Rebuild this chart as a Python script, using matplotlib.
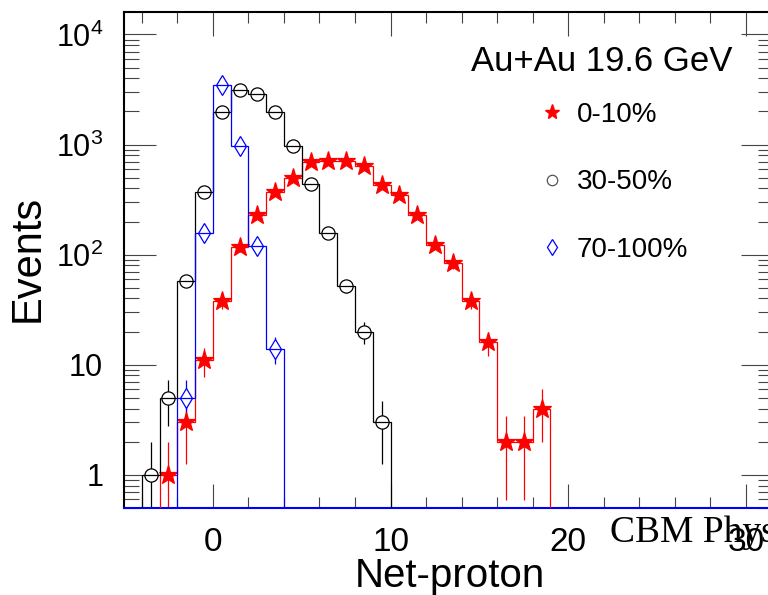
import numpy as np
import matplotlib
matplotlib.use('Agg')
import matplotlib.pyplot as plt
from matplotlib.lines import Line2D
from matplotlib.ticker import MultipleLocator, LogLocator, FixedLocator, FixedFormatter, NullFormatter

plt.rcParams['font.family'] = ['Liberation Sans', 'DejaVu Sans']
plt.rcParams['mathtext.fontset'] = 'custom'
plt.rcParams['mathtext.rm'] = 'Liberation Sans'

# net-proton distributions, unit bins starting at the given left edge
central_start = -3
central_counts = [1, 3, 11, 38, 117, 228, 369, 498, 700, 712, 705, 644, 433,
                  346, 228, 123, 84, 38, 16, 2, 2, 4]
mid_start = -4
mid_counts = [1, 5, 58, 371, 1983, 3162, 2909, 1967, 966, 442, 157, 52, 20, 3]
periph_start = -2
periph_counts = [5, 157, 3511, 979, 121, 14]

labels = ['0-10%', '30-50%', '70-100%']
y_ticks = [1, 10, 100, 1000, 10000]
y_tick_labels = ['1', '10', r'$10^{2}$', r'$10^{3}$', r'$10^{4}$']

fig = plt.figure(figsize=(7.68, 5.95), dpi=100)
ax = fig.add_axes([0.16146, 0.14622, 0.84453, 0.83361])
ax.set_yscale('log')

series = [
    (central_start, central_counts, 'red', '*', 14, 'red'),
    (mid_start, mid_counts, 'black', 'o', 9.5, 'none'),
    (periph_start, periph_counts, 'blue', 'd', 10, 'none'),
]

for z, (start, counts, color, marker, ms, face) in enumerate(series):
    counts = np.array(counts, dtype=float)
    edges = start + np.arange(len(counts) + 1)
    centers = edges[:-1] + 0.5
    err = np.sqrt(counts)
    lower = np.minimum(err, counts * 0.999)
    ax.errorbar(centers, counts, yerr=[lower, err], fmt='none', ecolor=color,
                elinewidth=0.9, capsize=0, zorder=2 + z * 0.1)
    ax.plot(centers, counts, ls='none', marker=marker, ms=ms,
            mfc='white' if face == 'none' else face, mec=color, mew=0.9,
            zorder=3 + z * 0.1)
    ax.stairs(counts, edges, baseline=0.1, color=color, lw=0.9,
              zorder=4 + z * 0.1)

ax.set_xlim(-5, 31.5)
ax.set_ylim(0.5, 1.6e4)

ax.xaxis.set_major_locator(MultipleLocator(10))
ax.xaxis.set_minor_locator(MultipleLocator(2))
ax.yaxis.set_major_locator(FixedLocator(y_ticks))
ax.yaxis.set_major_formatter(FixedFormatter(y_tick_labels))
ax.yaxis.set_minor_locator(LogLocator(base=10, subs=np.arange(2, 10)))
ax.yaxis.set_minor_formatter(NullFormatter())

ax.tick_params(which='both', direction='in', top=True, right=True,
               color='#444444', width=0.8)
ax.tick_params(axis='x', which='major', length=17, pad=14, labelsize=24)
ax.tick_params(axis='x', which='minor', length=8)
ax.tick_params(axis='y', which='major', length=23, pad=15, labelsize=22)
ax.tick_params(axis='y', which='minor', length=11)

for side in ax.spines.values():
    side.set_linewidth(1.5)
ax.spines['bottom'].set_color('blue')

ax.set_xlabel('Net-proton', fontsize=29, va='baseline')
ax.xaxis.set_label_coords(0.503, -0.159)
ax.set_ylabel('Events', fontsize=30, va='center')
ax.yaxis.set_label_coords(-0.148, 0.504)

fig.text(0.784, 0.8807, 'Au+Au 19.6 GeV', fontsize=25, ha='center', va='baseline')

handles = [
    Line2D([], [], ls='none', marker='*', ms=11, color='red'),
    Line2D([], [], ls='none', marker='o', ms=7.5, mfc='none', mec='#555555', mew=0.9),
    Line2D([], [], ls='none', marker='d', ms=8, mfc='none', mec='blue', mew=0.9),
]
ax.legend(handles, labels, loc='upper left', bbox_to_anchor=(0.7005, 0.8286),
          bbox_transform=fig.transFigure, frameon=False, fontsize=20,
          handlelength=1.0, handletextpad=0.4, labelspacing=1.49,
          borderpad=0, borderaxespad=0)

fig.text(610 / 768, 1 - 541.7 / 595, 'CBM Physics', fontsize=27,
         family='Liberation Serif', ha='left', va='baseline')

fig.savefig('out.png', dpi=100)
